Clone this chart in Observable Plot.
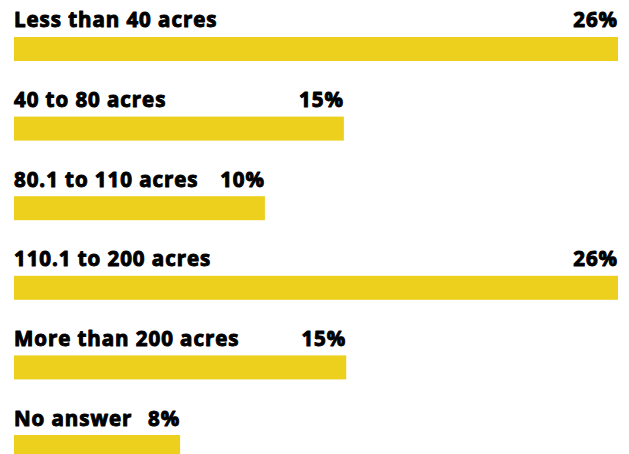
<!DOCTYPE html>
<html>
<head>
<meta charset="utf-8">
<script src="https://cdn.jsdelivr.net/npm/d3@7"></script>
<script src="https://cdn.jsdelivr.net/npm/@observablehq/plot@0.6"></script>
<style>
  html, body { margin: 0; padding: 0; background: #fff; }
  #chart svg { display: block; }
  #chart svg text { letter-spacing: 0.95px; }
</style>
</head>
<body>
<div id="chart"></div>
<script>
const categories = ["Less than 40 acres", "40 to 80 acres", "80.1 to 110 acres", "110.1 to 200 acres", "More than 200 acres", "No answer"];
const values = [26, 14.2, 10.8, 26, 14.3, 7.15];
const valueLabels = ["26%", "15%", "10%", "26%", "15%", "8%"];

const data = categories.map((c, i) => ({category: c, value: values[i], label: valueLabels[i]}));

const fontFamily = "'Open Sans', sans-serif";

const chart = Plot.plot({
  width: 629,
  height: 454,
  marginTop: 0,
  marginBottom: 0,
  marginLeft: 14,
  marginRight: 11,
  style: {fontFamily, background: "#fff"},
  x: {domain: [0, 26], axis: null},
  y: {domain: categories, range: [37, 459], paddingInner: 0.6985, paddingOuter: 0, round: false, axis: null},
  marks: [
    Plot.barX(data, {x: "value", y: "category", fill: "#ecd01d"}),
    Plot.text(data, {x: 0, y: "category", text: "category", textAnchor: "start", lineAnchor: "bottom", dy: -22, dx: -0.5, fontSize: 20.5, fontWeight: 700, fill: "#000", stroke: "#000", strokeWidth: 1}),
    Plot.text(data, {x: "value", y: "category", text: "label", textAnchor: "end", lineAnchor: "bottom", dy: -22, dx: -0.5, fontSize: 20.5, fontWeight: 700, fill: "#000", stroke: "#000", strokeWidth: 1})
  ]
});
document.getElementById("chart").appendChild(chart);
</script>
</body>
</html>
